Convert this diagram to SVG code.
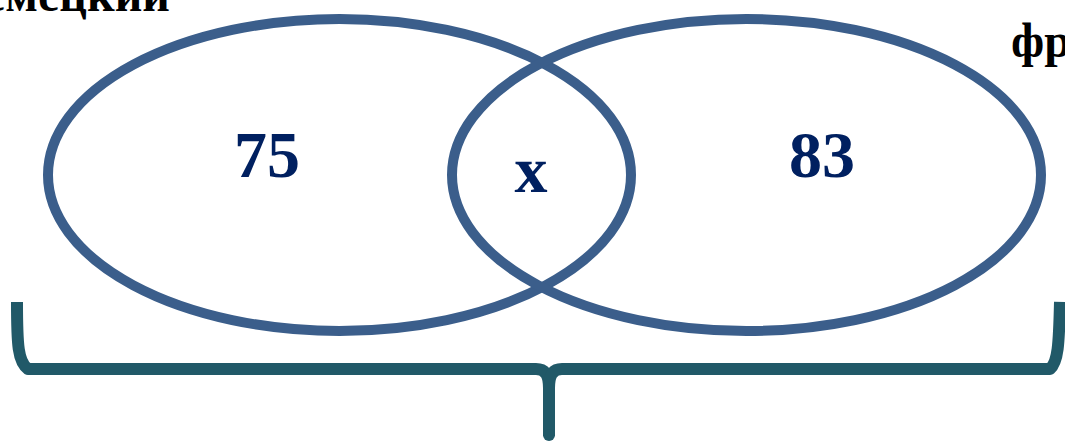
<svg xmlns="http://www.w3.org/2000/svg" width="1065" height="442" viewBox="0 0 1065 442">
<style>
.set{fill:none;stroke:#3B5E8B;stroke-width:10}
.lbl{font-family:"Liberation Serif","Times New Roman",serif;font-weight:bold;fill:#000000;font-size:48px}
.num{font-family:"Liberation Serif","Times New Roman",serif;font-weight:bold;fill:#002060;font-size:66px;text-anchor:middle}
.brace{fill:none;stroke:#215968;stroke-width:12;stroke-linejoin:round}
</style>
<rect width="1065" height="442" fill="#ffffff"/>
<g id="set-left">
<ellipse class="set" cx="339.5" cy="175" rx="291.5" ry="156"/>
<text class="num" x="267" y="177">75</text>
</g>
<g id="set-right">
<ellipse class="set" cx="746.5" cy="175" rx="294.5" ry="156"/>
<text class="num" x="822" y="177">83</text>
</g>
<g id="intersection">
<text class="num" x="531" y="192">x</text>
</g>
<g id="label-left">
<text class="lbl" x="170" y="11" text-anchor="end">немецкий</text>
</g>
<g id="label-right">
<text class="lbl" x="1011" y="57">французский</text>
</g>
<g id="connectors">
<path class="brace" d="M17,302 C17,345 18,362 28,369 L536,369 C546,369 549,376 549,388 L549,436"/>
<path class="brace" d="M549,388 C549,376 552,369 562,369 L1050,369 C1058,362 1059,345 1060,302"/>
<circle cx="549" cy="435" r="6" fill="#215968"/>
</g>
</svg>
